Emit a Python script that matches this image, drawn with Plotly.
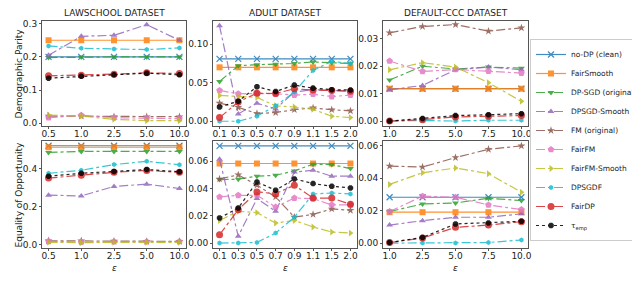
import plotly.graph_objects as go

W, H = 640, 283

# ---------------- data ----------------
eps_law = ["0.5", "1.0", "2.5", "5.0", "10.0"]
eps_adult = ["0.1", "0.3", "0.5", "0.7", "0.9", "1.1", "1.5", "2.0"]
eps_ccc = ["1.0", "2.5", "5.0", "7.5", "10.0"]

methods = ["no-DP (clean)", "FairSmooth", "DP-SGD (original)", "DPSGD-Smooth", "FM (original)",
           "FairFM", "FairFM-Smooth", "DPSGDF", "FairDP", "τ<sub>emp</sub>"]

# Demographic parity
law_dp_nodp = [0.200, 0.200, 0.200, 0.200, 0.200]
law_dp_fairsmooth = [0.250, 0.250, 0.250, 0.250, 0.250]
law_dp_dpsgd = [0.198, 0.200, 0.200, 0.200, 0.200]
law_dp_dpsgdsmooth = [0.205, 0.262, 0.265, 0.297, 0.250]
law_dp_fm = [0.022, 0.022, 0.020, 0.020, 0.020]
law_dp_fairfm = [0.017, 0.024, 0.017, 0.015, 0.014]
law_dp_fairfmsmooth = [0.025, 0.022, 0.012, 0.008, 0.008]
law_dp_dpsgdf = [0.233, 0.226, 0.224, 0.222, 0.227]
law_dp_fairdp = [0.143, 0.145, 0.148, 0.152, 0.150]
law_dp_temp = [0.136, 0.142, 0.146, 0.151, 0.146]

adult_dp_nodp = [0.081] * 8
adult_dp_fairsmooth = [0.070] * 8
adult_dp_dpsgd = [0.0517, 0.072, 0.0735, 0.074, 0.075, 0.077, 0.076, 0.075]
adult_dp_dpsgdsmooth = [0.124, 0.0095, 0.0235, 0.016, 0.038, 0.041, 0.040, 0.039]
adult_dp_fm = [0.0235, 0.018, 0.010, 0.0113, 0.015, 0.0173, 0.015, 0.0135]
adult_dp_fairfm = [0.040, 0.0356, 0.036, 0.0356, 0.034, 0.035, 0.032, 0.034]
adult_dp_fairfmsmooth = [0.0335, 0.032, 0.031, 0.020, 0.0185, 0.0155, 0.0065, 0.0047]
adult_dp_dpsgdf = [0.000, 0.000, 0.0065, 0.020, 0.038, 0.066, 0.0777, 0.075]
adult_dp_fairdp = [0.0047, 0.025, 0.0365, 0.036, 0.0422, 0.0405, 0.040, 0.039]
adult_dp_temp = [0.0185, 0.026, 0.0448, 0.0386, 0.047, 0.043, 0.041, 0.0405]

ccc_dp_nodp = [0.0118] * 5
ccc_dp_fairsmooth = [0.0118] * 5
ccc_dp_dpsgd = [0.015, 0.020, 0.019, 0.0197, 0.0193]
ccc_dp_dpsgdsmooth = [0.0114, 0.013, 0.0187, 0.0197, 0.0187]
ccc_dp_fm = [0.0322, 0.0345, 0.0352, 0.0328, 0.034]
ccc_dp_fairfm = [0.0219, 0.0181, 0.0188, 0.0182, 0.0175]
ccc_dp_fairfmsmooth = [0.0187, 0.0213, 0.0197, 0.014, 0.0072]
ccc_dp_dpsgdf = [0.000, 0.0002, 0.000, 0.0003, 0.0003]
ccc_dp_fairdp = [0.000, 0.0005, 0.0015, 0.0018, 0.0020]
ccc_dp_temp = [0.000, 0.0009, 0.0020, 0.0023, 0.0027]

# Equality of opportunity
law_eo_nodp = [0.520] * 5
law_eo_fairsmooth = [0.512] * 5
law_eo_dpsgd = [0.485, 0.490, 0.490, 0.490, 0.490]
law_eo_dpsgdsmooth = [0.260, 0.256, 0.306, 0.318, 0.295]
law_eo_fm = [0.020, 0.020, 0.018, 0.017, 0.017]
law_eo_fairfm = [0.017, 0.013, 0.015, 0.015, 0.016]
law_eo_fairfmsmooth = [0.012, 0.010, 0.012, 0.012, 0.012]
law_eo_dpsgdf = [0.375, 0.391, 0.421, 0.438, 0.420]
law_eo_fairdp = [0.350, 0.365, 0.380, 0.390, 0.380]
law_eo_temp = [0.360, 0.375, 0.385, 0.395, 0.383]

adult_eo_nodp = [0.0712] * 8
adult_eo_fairsmooth = [0.0583] * 8
adult_eo_dpsgd = [0.0465, 0.0468, 0.049, 0.0497, 0.0529, 0.0578, 0.0575, 0.0546]
adult_eo_dpsgdsmooth = [0.0614, 0.005, 0.0326, 0.0233, 0.052, 0.0534, 0.049, 0.049]
adult_eo_fm = [0.047, 0.050, 0.0424, 0.0338, 0.019, 0.021, 0.025, 0.024]
adult_eo_fairfm = [0.0338, 0.035, 0.035, 0.0264, 0.033, 0.0326, 0.028, 0.028]
adult_eo_fairfmsmooth = [0.0166, 0.0233, 0.0223, 0.0147, 0.0166, 0.0118, 0.0081, 0.0073]
adult_eo_dpsgdf = [0.000, 0.000, 0.0005, 0.0073, 0.019, 0.036, 0.0367, 0.036]
adult_eo_fairdp = [0.0061, 0.0245, 0.0375, 0.0362, 0.0424, 0.033, 0.033, 0.0284]
adult_eo_temp = [0.0184, 0.0257, 0.0448, 0.0387, 0.047, 0.0436, 0.0416, 0.0404]

ccc_eo_nodp = [0.0282] * 5
ccc_eo_fairsmooth = [0.019] * 5
ccc_eo_dpsgd = [0.0194, 0.0241, 0.0247, 0.0276, 0.0262]
ccc_eo_dpsgdsmooth = [0.0111, 0.0138, 0.0159, 0.0159, 0.018]
ccc_eo_fm = [0.0474, 0.0468, 0.0526, 0.0577, 0.0598]
ccc_eo_fairfm = [0.0194, 0.0289, 0.0282, 0.0235, 0.0206]
ccc_eo_fairfmsmooth = [0.0361, 0.0433, 0.0462, 0.0427, 0.0313]
ccc_eo_dpsgdf = [0.000, 0.000, 0.000, 0.0004, 0.0019]
ccc_eo_fairdp = [0.0004, 0.0031, 0.0097, 0.0111, 0.0132]
ccc_eo_temp = [0.0004, 0.0035, 0.0118, 0.0124, 0.0134]

panel_titles = ["LAWSCHOOL DATASET", "ADULT DATASET", "DEFAULT-CCC DATASET"]
row_titles = ["Demographic Parity", "Equality of Opportunity"]

# ---------------- styles ----------------
colors = ["#1f77b4", "#ff7f0e", "#2ca02c", "#9467bd", "#8c564b",
          "#e377c2", "#bcbd22", "#17becf", "#d62728", "#000000"]
symbols = ["x-thin", "square", "triangle-down", "triangle-up", "star",
           "pentagon", "triangle-right", "hexagon", "circle", "octagon"]
msizes = [6, 6, 6, 6, 6, 7, 6, 5, 7, 6]
dashes = ["solid", "solid", "dashdot", "dashdot", "dashdot",
          "dashdot", "dashdot", "dashdot", "dashdot", "dot"]

panels = [
    (eps_law, [law_dp_nodp, law_dp_fairsmooth, law_dp_dpsgd, law_dp_dpsgdsmooth, law_dp_fm,
               law_dp_fairfm, law_dp_fairfmsmooth, law_dp_dpsgdf, law_dp_fairdp, law_dp_temp],
     [-0.008, 0.308], [0.0, 0.1, 0.2, 0.3], ["0.0", "0.1", "0.2", "0.3"]),
    (eps_adult, [adult_dp_nodp, adult_dp_fairsmooth, adult_dp_dpsgd, adult_dp_dpsgdsmooth, adult_dp_fm,
                 adult_dp_fairfm, adult_dp_fairfmsmooth, adult_dp_dpsgdf, adult_dp_fairdp, adult_dp_temp],
     [-0.0062, 0.1302], [0.0, 0.05, 0.10], ["0.00", "0.05", "0.10"]),
    (eps_ccc, [ccc_dp_nodp, ccc_dp_fairsmooth, ccc_dp_dpsgd, ccc_dp_dpsgdsmooth, ccc_dp_fm,
               ccc_dp_fairfm, ccc_dp_fairfmsmooth, ccc_dp_dpsgdf, ccc_dp_fairdp, ccc_dp_temp],
     [-0.0018, 0.0365], [0.0, 0.01, 0.02, 0.03], ["0.00", "0.01", "0.02", "0.03"]),
    (eps_law, [law_eo_nodp, law_eo_fairsmooth, law_eo_dpsgd, law_eo_dpsgdsmooth, law_eo_fm,
               law_eo_fairfm, law_eo_fairfmsmooth, law_eo_dpsgdf, law_eo_fairdp, law_eo_temp],
     [-0.018, 0.545], [0.0, 0.2, 0.4], ["0.0", "0.2", "0.4"]),
    (eps_adult, [adult_eo_nodp, adult_eo_fairsmooth, adult_eo_dpsgd, adult_eo_dpsgdsmooth, adult_eo_fm,
                 adult_eo_fairfm, adult_eo_fairfmsmooth, adult_eo_dpsgdf, adult_eo_fairdp, adult_eo_temp],
     [-0.0036, 0.0748], [0.0, 0.02, 0.04, 0.06], ["0.00", "0.02", "0.04", "0.06"]),
    (eps_ccc, [ccc_eo_nodp, ccc_eo_fairsmooth, ccc_eo_dpsgd, ccc_eo_dpsgdsmooth, ccc_eo_fm,
               ccc_eo_fairfm, ccc_eo_fairfmsmooth, ccc_eo_dpsgdf, ccc_eo_fairdp, ccc_eo_temp],
     [-0.003, 0.0628], [0.0, 0.02, 0.04, 0.06], ["0.00", "0.02", "0.04", "0.06"]),
]

# pixel layout
col_px = [(34, 178), (205, 349), (375, 520)]
row_px = [(13, 118), (133, 240)]

FONT = "DejaVu Sans"
fig = go.Figure()
layout = dict(
    width=W, height=H, margin=dict(l=0, r=0, t=0, b=0, autoexpand=False),
    paper_bgcolor="white", plot_bgcolor="white",
    font=dict(family=FONT, size=9, color="#222"),
    showlegend=True,
)
annotations = []

for p, (xcats, series, yr, yt, ytl) in enumerate(panels):
    r, c = divmod(p, 3)
    idx = p + 1
    xa = "xaxis" if idx == 1 else f"xaxis{idx}"
    ya = "yaxis" if idx == 1 else f"yaxis{idx}"
    xref = "x" if idx == 1 else f"x{idx}"
    yref = "y" if idx == 1 else f"y{idx}"
    x0, x1 = col_px[c]
    y0, y1 = row_px[r]
    n = len(xcats)
    layout[xa] = dict(domain=[x0 / W, x1 / W], anchor=yref, type="category",
                      categoryorder="array", categoryarray=xcats,
                      range=[-0.05 * (n - 1), (n - 1) * 1.05],
                      showline=True, mirror=True, linecolor="#555", linewidth=1,
                      ticks="outside", ticklen=2, tickcolor="#555", showgrid=False,
                      zeroline=False, tickfont=dict(size=9), ticklabelstandoff=-3)
    layout[ya] = dict(domain=[1 - y1 / H, 1 - y0 / H], anchor=xref, range=yr,
                      tickvals=yt, ticktext=ytl,
                      showline=True, mirror=True, linecolor="#555", linewidth=1,
                      ticks="outside", ticklen=2, tickcolor="#555", showgrid=False,
                      zeroline=False, tickfont=dict(size=9), ticklabelstandoff=0)
    for k, ys in enumerate(series):
        fig.add_trace(go.Scatter(
            x=xcats, y=ys, name=methods[k], xaxis=xref, yaxis=yref,
            mode="lines+markers", opacity=0.85,
            line=dict(color=colors[k], width=1.2, dash=dashes[k]),
            marker=dict(symbol=symbols[k], size=msizes[k], color=colors[k],
                        line=dict(color=colors[k], width=1.2 if symbols[k] == "x-thin" else 0)),
            showlegend=(p == 0), legendgroup=methods[k]))
    if r == 0:
        annotations.append(dict(text=panel_titles[c], x=(x0 + x1) / 2 / W, y=1 - 5 / H,
                                xref="paper", yref="paper", showarrow=False,
                                font=dict(size=9, family=FONT), xanchor="center", yanchor="middle"))
    else:
        annotations.append(dict(text="<i>ε</i>", x=(x0 + x1) / 2 / W, y=1 - 260 / H,
                                xref="paper", yref="paper", showarrow=False,
                                font=dict(size=9, family=FONT), xanchor="center", yanchor="middle"))
    if c == 0:
        annotations.append(dict(text=row_titles[r], x=10 / W, y=1 - (y0 + y1) / 2 / H,
                                xref="paper", yref="paper", showarrow=False, textangle=-90,
                                font=dict(size=9, family=FONT), xanchor="center", yanchor="middle"))

annotations.append(dict(
    text="Figure 3: Tightness of fairness certification compared to empirical results of deep learning algorithms and",
    x=0, y=1 - 271 / H, xref="paper", yref="paper", showarrow=False, xanchor="left", yanchor="top",
    font=dict(size=15, family="Liberation Serif", color="#111")))

layout["annotations"] = annotations
layout["legend"] = dict(x=522 / W, xanchor="left", y=1 - 132 / H, yanchor="middle",
                        bgcolor="rgba(255,255,255,0.9)", bordercolor="#ccc", borderwidth=1,
                        font=dict(size=7.5, family=FONT), itemwidth=30, tracegroupgap=0)
fig.update_layout(**layout)
fig.write_html("out.html")
